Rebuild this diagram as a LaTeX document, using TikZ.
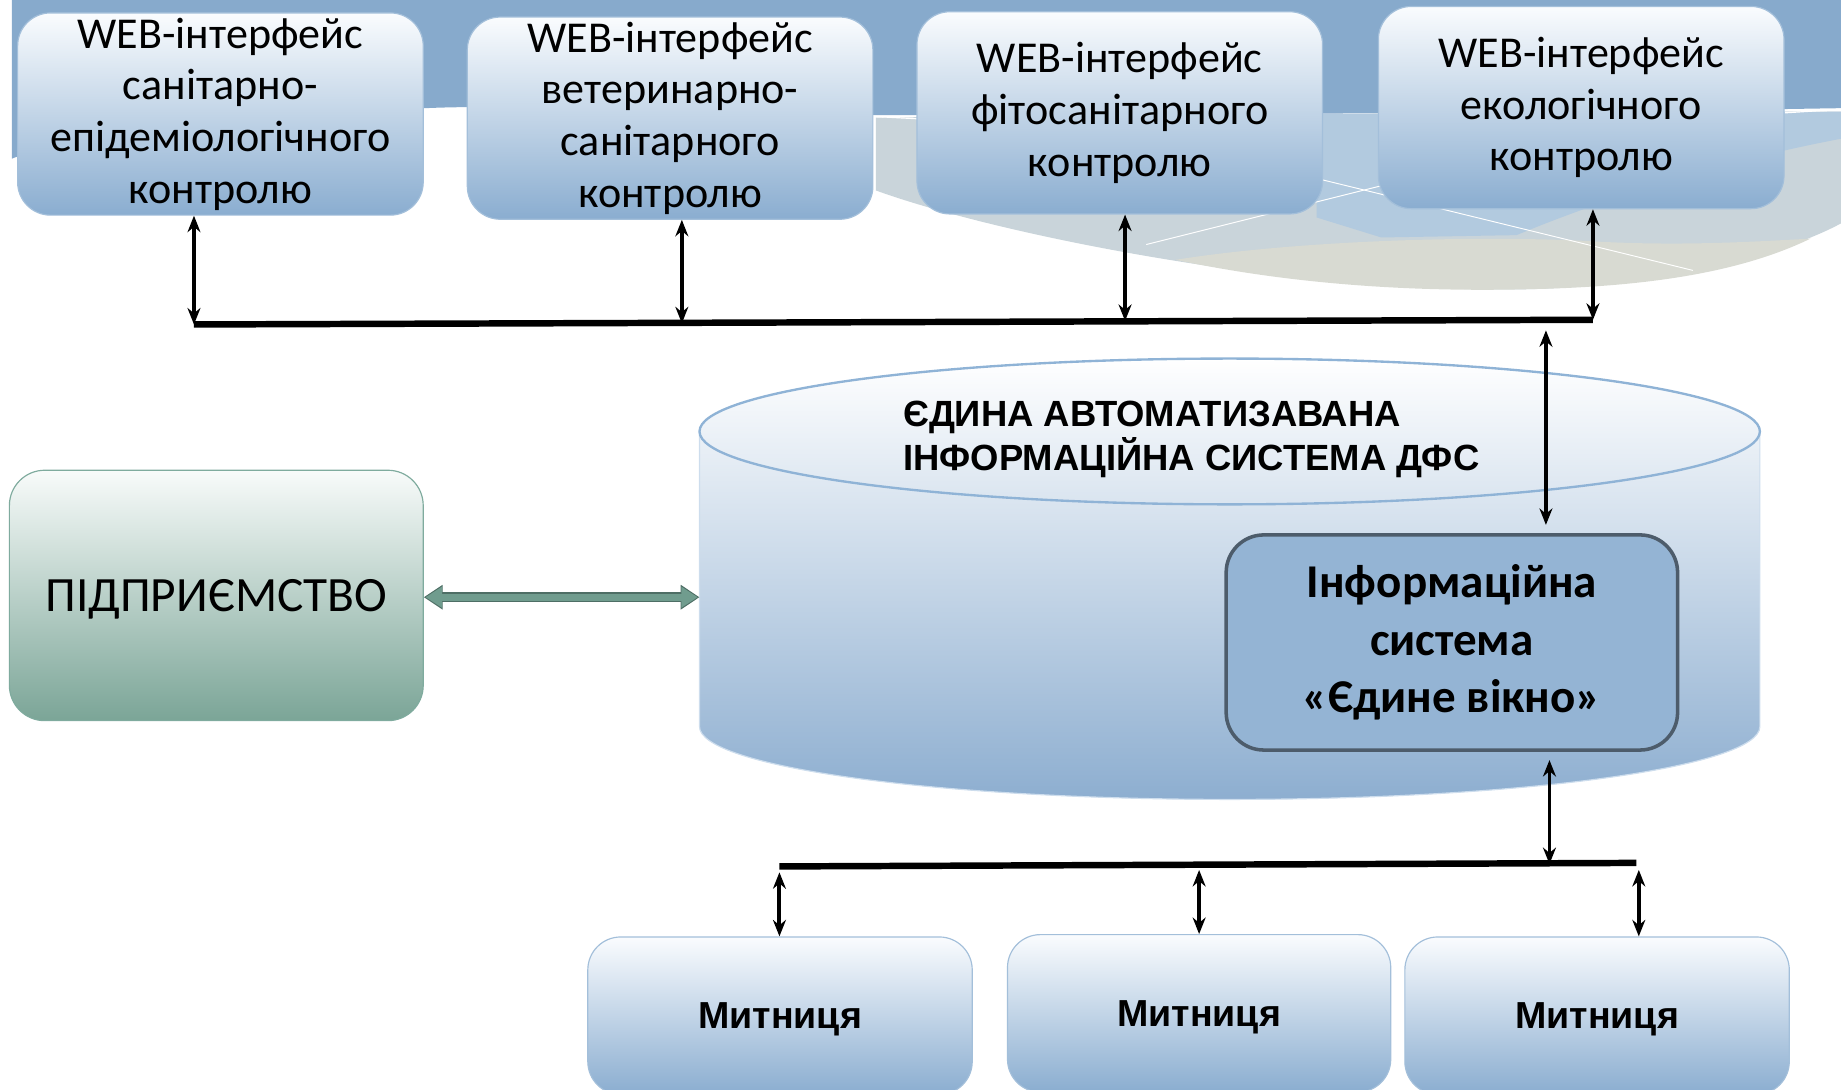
\documentclass[tikz,border=0pt]{standalone}
\usepackage{fontspec}
\setmainfont{Carlito}
\newfontfamily\arialfont{Liberation Sans}
\usepackage{xcolor}
\usetikzlibrary{arrows.meta}
\definecolor{bandblue}{HTML}{87AACC}
\definecolor{arcgray}{HTML}{C9D4DA}
\definecolor{arcbeige}{HTML}{D8DAD2}
\definecolor{arclight}{HTML}{B2CADF}
\definecolor{boxtop}{HTML}{FAFCFE}
\definecolor{boxbottom}{HTML}{8AADD0}
\definecolor{boxline}{HTML}{A3BFDA}
\definecolor{enttop}{HTML}{F8FBFA}
\definecolor{entbottom}{HTML}{7BA597}
\definecolor{entline}{HTML}{7FAB9E}
\definecolor{entarrowc}{HTML}{709C8E}
\definecolor{entarrowline}{HTML}{4E6E65}
\definecolor{cylbottom}{HTML}{8DAED0}
\definecolor{cylline}{HTML}{8FB3D6}
\definecolor{infofill}{HTML}{94B4D4}
\definecolor{infoline}{HTML}{4D5C6B}
\tikzstyle{webbox} = [
    rectangle,
    rounded corners=28pt,
    draw=boxline,
    line width=1pt,
    top color=boxtop,
    bottom color=boxbottom,
    minimum width=345pt,
    minimum height=172pt,
    align=center,
    inner sep=0pt,
    font=\fontsize{37.5}{44}\selectfont
    ]
\tikzstyle{custombox} = [
    webbox,
    minimum width=327pt,
    minimum height=134pt,
    text depth=0pt,
    font=\arialfont\bfseries\fontsize{32}{38}\selectfont
    ]
\tikzstyle{entbox} = [
    rectangle,
    rounded corners=30pt,
    draw=entline,
    line width=1pt,
    top color=enttop,
    bottom color=entbottom,
    minimum width=352pt,
    minimum height=213pt,
    text depth=0pt,
    font=\fontsize{42}{48}\selectfont
    ]
\tikzstyle{infobox} = [
    rectangle,
    rounded corners=32pt,
    draw=infoline,
    line width=3pt,
    fill=infofill,
    minimum width=384pt,
    minimum height=183pt,
    align=center,
    inner sep=0pt,
    font=\bfseries\fontsize{40}{49}\selectfont
    ]
\tikzstyle{link} = [
    line width=3.3pt,
    {Stealth[length=14pt,width=11pt]}-{Stealth[length=14pt,width=11pt]}
    ]
\tikzstyle{bus} = [line width=5.5pt]
\tikzstyle{entlink} = [
    line width=6pt,
    draw=entarrowc,
    {Triangle[length=14pt,width=17pt]}-{Triangle[length=14pt,width=17pt]}
    ]

\begin{document}
\begin{tikzpicture}[x=1pt,y=1pt]
\useasboundingbox (0,0) rectangle (1566,-927);
% background of the slide
\fill[bandblue] (10,0) -- (1566,0) -- (1566,-92)
    .. controls (1200,-98) and (900,-97) .. (745,-98)
    .. controls (600,-98) and (450,-88) .. (362,-92)
    .. controls (200,-100) and (60,-115) .. (10,-135) -- cycle;
\fill[arcgray] (745,-100) .. controls (1100,-97) and (1400,-95) .. (1566,-95)
    -- (1566,-190)
    .. controls (1520,-215) and (1420,-243) .. (1300,-246)
    .. controls (1100,-250) and (850,-200) .. (745,-162) -- cycle;
\fill[arcbeige] (1000,-221) .. controls (1100,-205) and (1250,-200) .. (1350,-205)
    .. controls (1430,-210) and (1500,-205) .. (1540,-203)
    .. controls (1480,-232) and (1400,-244) .. (1300,-246)
    .. controls (1180,-249) and (1080,-238) .. (1000,-221) -- cycle;
\fill[arclight] (1120,-97) -- (1566,-95) -- (1566,-118)
    .. controls (1450,-140) and (1350,-175) .. (1290,-200)
    -- (1175,-202) -- (1120,-185) -- cycle;
\draw[white, line width=1pt] (742,-99) -- (780,-101);
\draw[white, line width=1pt] (1518,-96) -- (1566,-93);
\draw[white, line width=0.8pt] (1125,-153) -- (1440,-230);
\draw[white, line width=0.8pt] (975,-208) -- (1175,-158);

% web interfaces
\node[webbox] (web1) at (187.5,-97) {WEB-інтерфейс\\санітарно-\\епідеміологічного\\контролю};
\node[webbox] (web2) at (570,-100.5) {WEB-інтерфейс\\ветеринарно-\\санітарного\\контролю};
\node[webbox] (web3) at (952.5,-96) {WEB-інтерфейс\\фітосанітарного\\контролю};
\node[webbox] (web4) at (1345,-91.5) {WEB-інтерфейс\\екологічного\\контролю};

\coordinate (b1) at (165,-276);
\coordinate (b2) at (580,-275);
\coordinate (b3) at (957,-273);
\coordinate (b4) at (1355,-272);
\draw[bus] (b1) -- (b4);
\draw[link] (b1) -- (b1 |- web1.south);
\draw[link] (b2) -- (b2 |- web2.south);
\draw[link] (b3) -- (b3 |- web3.south);
\draw[link] (b4) -- (b4 |- web4.south);

% the DFS cylinder
\shade[top color=white, bottom color=cylbottom]
    (595,-367) -- (595,-618) arc[start angle=180, end angle=360, x radius=451, y radius=62]
    -- (1497,-367) arc[start angle=0, end angle=180, x radius=451, y radius=62] -- cycle;
\draw[cylline!45, line width=1pt]
    (595,-367) -- (595,-618) arc[start angle=180, end angle=360, x radius=451, y radius=62]
    -- (1497,-367);
\draw[cylline, line width=2pt] (1046,-367) ellipse [x radius=451, y radius=62];
\node[anchor=north west, align=left, inner sep=0pt,
      font=\arialfont\bfseries\fontsize{31}{37}\selectfont] (dfs) at (768,-341)
    {ЄДИНА АВТОМАТИЗАВАНА\\ІНФОРМАЦІЙНА СИСТЕМА ДФС};
\coordinate (dfsW) at (595,-508);

\node[infobox] (info) at (1235,-546.5) {Інформаційна\\система\\«Єдине вікно»};
\coordinate (d1) at (1315,-281);
\draw[link, shorten >=7pt] (d1) -- (d1 |- info.north);

% enterprise
\node[entbox] (ent) at (184,-506.5) {ПІДПРИЄМСТВО};
\draw[entarrowline, line width=8.5pt, {Triangle[length=16pt,width=20pt]}-{Triangle[length=16pt,width=20pt]}]
    (ent.east |- dfsW) -- (dfsW);
\draw[entlink, shorten <=1.5pt, shorten >=1.5pt] (ent.east |- dfsW) -- (dfsW);

% customs
\node[custombox] (cust1) at (663.5,-864) {Митниця};
\node[custombox, minimum width=326pt] (cust2) at (1020,-862) {Митниця};
\node[custombox] (cust3) at (1358.5,-864) {Митниця};

\coordinate (u0) at (1318,-735);
\coordinate (c1) at (663,-742);
\coordinate (c2) at (1020,-740);
\coordinate (c3) at (1394,-740);
\draw[bus] (663,-737) coordinate (cbusL) -- (1392,-734) coordinate (cbusR);
\draw[link, shorten <=7pt] (u0 |- info.south) -- (u0);
\draw[link] (c1) -- (c1 |- cust1.north);
\draw[link] (c2) -- (c2 |- cust2.north);
\draw[link] (c3) -- (c3 |- cust3.north);
\end{tikzpicture}
\end{document}
